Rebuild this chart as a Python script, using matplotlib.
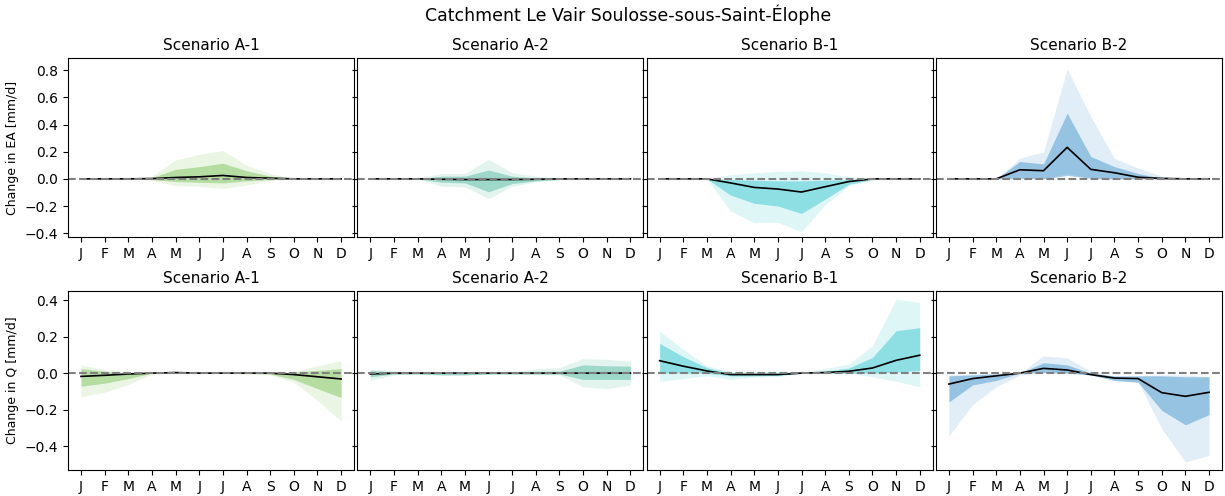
import numpy as np
import matplotlib.pyplot as plt
from matplotlib.ticker import MultipleLocator

months = ["J", "F", "M", "A", "M", "J", "J", "A", "S", "O", "N", "D"]
scenarios = ["Scenario A-1", "Scenario A-2", "Scenario B-1", "Scenario B-2"]
colors = ["#78c050", "#48b89a", "#2cc3cf", "#3d8fcb"]

# ---------------------------------------------------------
# change in actual evaporation (EA), mm/d
# ---------------------------------------------------------
ea_median = [
    [0, 0, 0, 0.002, 0.01, 0.015, 0.025, 0.01, 0.005, 0, 0, 0],
    [0, 0, 0, -0.003, -0.005, -0.005, -0.005, -0.003, 0, 0, 0, 0],
    [0, 0, 0, -0.03, -0.063, -0.075, -0.097, -0.058, -0.02, 0, 0, 0],
    [0, 0, 0, 0.067, 0.06, 0.232, 0.07, 0.045, 0.012, 0.003, 0, 0],
]
ea_inner_lo = [
    [0, 0, 0, -0.005, -0.02, -0.025, -0.03, -0.015, -0.005, 0, 0, 0],
    [0, 0, 0, -0.025, -0.03, -0.095, -0.035, -0.015, -0.005, 0, 0, 0],
    [0, 0, 0, -0.12, -0.18, -0.2, -0.255, -0.15, -0.04, -0.005, 0, 0],
    [0, 0, 0, 0.005, 0, 0.025, 0.005, 0, 0, 0, 0, 0],
]
ea_inner_hi = [
    [0, 0, 0, 0.01, 0.07, 0.09, 0.115, 0.06, 0.02, 0, 0, 0],
    [0, 0, 0, 0.02, 0.02, 0.065, 0.02, 0.005, 0, 0, 0, 0],
    [0, 0, 0, -0.005, -0.01, -0.015, -0.015, -0.01, -0.005, 0, 0, 0],
    [0, 0, 0, 0.128, 0.11, 0.484, 0.165, 0.09, 0.04, 0.005, 0, 0],
]
ea_outer_lo = [
    [0, 0, 0, -0.01, -0.05, -0.055, -0.07, -0.045, -0.01, 0, 0, 0],
    [0, 0, 0, -0.055, -0.06, -0.145, -0.055, -0.02, -0.005, 0, 0, 0],
    [0, 0, 0, -0.237, -0.323, -0.32, -0.39, -0.19, -0.05, -0.005, 0, 0],
    [0, 0, 0, 0, 0, 0.04, 0.005, 0, 0, 0, 0, 0],
]
ea_outer_hi = [
    [0, 0, 0, 0.02, 0.14, 0.18, 0.21, 0.1, 0.04, 0, 0, 0],
    [0, 0, 0, 0.04, 0.04, 0.145, 0.045, 0.02, 0.005, 0, 0, 0],
    [0, 0, 0, 0.03, 0.045, 0.055, 0.06, 0.045, 0.015, 0, 0, 0],
    [0, 0, 0, 0.153, 0.198, 0.81, 0.46, 0.15, 0.08, 0.02, 0, 0],
]

# ---------------------------------------------------------
# change in discharge (Q), mm/d
# ---------------------------------------------------------
q_median = [
    [-0.018, -0.012, -0.005, 0, 0.003, 0, 0, 0, 0, -0.008, -0.02, -0.032],
    [-0.005, 0, 0, 0, 0, 0, 0, 0, 0, 0, 0, 0],
    [0.068, 0.038, 0.012, -0.008, -0.008, -0.008, 0, 0.003, 0.01, 0.028, 0.07, 0.098],
    [-0.06, -0.03, -0.015, 0, 0.026, 0.017, -0.008, -0.027, -0.03, -0.107, -0.127, -0.105],
]
q_inner_lo = [
    [-0.072, -0.055, -0.03, 0, 0, 0, 0, 0, -0.005, -0.035, -0.085, -0.134],
    [-0.02, -0.005, -0.005, -0.01, -0.01, -0.005, -0.005, -0.005, -0.005, -0.035, -0.035, -0.035],
    [0, 0, 0, -0.015, -0.015, -0.012, 0, 0, 0, 0, 0.005, 0.015],
    [-0.158, -0.065, -0.04, 0, 0.003, 0, -0.01, -0.04, -0.05, -0.204, -0.283, -0.227],
]
q_inner_hi = [
    [0.025, 0.01, 0, 0, 0.005, 0, 0, 0, 0, 0.005, 0.015, 0.025],
    [0.015, 0.005, 0, 0, 0.003, 0, 0.003, 0.01, 0.01, 0.045, 0.04, 0.038],
    [0.163, 0.09, 0.03, 0, 0, 0, 0.005, 0.01, 0.028, 0.086, 0.232, 0.249],
    [-0.015, -0.01, -0.005, 0, 0.057, 0.045, 0, -0.015, -0.015, -0.015, -0.02, -0.02],
]
q_outer_lo = [
    [-0.128, -0.105, -0.062, -0.005, 0, 0, 0, -0.005, -0.01, -0.05, -0.15, -0.263],
    [-0.04, -0.01, -0.005, -0.01, -0.01, -0.005, -0.005, -0.01, -0.01, -0.075, -0.085, -0.065],
    [-0.045, -0.03, -0.015, -0.035, -0.02, -0.02, 0, 0, 0, -0.02, -0.045, -0.075],
    [-0.344, -0.172, -0.075, -0.01, 0, 0, -0.01, -0.04, -0.05, -0.304, -0.487, -0.45],
]
q_outer_hi = [
    [0.044, 0.02, 0.01, 0, 0.008, 0.005, 0, 0, 0.003, 0.01, 0.04, 0.068],
    [0.025, 0.012, 0.005, 0.003, 0.008, 0.003, 0.005, 0.025, 0.03, 0.08, 0.075, 0.065],
    [0.23, 0.13, 0.04, 0.01, 0.01, 0.01, 0.005, 0.025, 0.05, 0.15, 0.405, 0.388],
    [-0.01, -0.005, 0, 0, 0.095, 0.083, 0.01, -0.02, -0.015, -0.01, -0.01, -0.02],
]

x = np.arange(len(months))

fig, axes = plt.subplots(2, 4, figsize=(12.25, 4.96), dpi=100, sharey="row")
fig.subplots_adjust(left=0.0555, right=0.9976, top=0.883, bottom=0.052,
                    wspace=0.011, hspace=0.30)

rows = [
    (ea_median, ea_inner_lo, ea_inner_hi, ea_outer_lo, ea_outer_hi, "Change in EA [mm/d]"),
    (q_median, q_inner_lo, q_inner_hi, q_outer_lo, q_outer_hi, "Change in Q [mm/d]"),
]

for r, (med, ilo, ihi, olo, ohi, ylabel) in enumerate(rows):
    for c in range(4):
        ax = axes[r, c]
        # outer and inner ensemble bands, median on top
        ax.fill_between(x, olo[c], ohi[c], color=colors[c], alpha=0.15, lw=0)
        ax.fill_between(x, ilo[c], ihi[c], color=colors[c], alpha=0.45, lw=0)
        ax.plot(x, med[c], color="black", lw=1.2)
        ax.axhline(0, color="grey", ls="--", lw=1.5)
        ax.set_title(scenarios[c], fontsize=11)
        ax.set_xticks(x)
        ax.set_xticklabels(months)
    axes[r, 0].yaxis.set_major_locator(MultipleLocator(0.2))
    axes[r, 0].set_ylabel(ylabel, fontsize=9)

axes[0, 0].set_ylim(-0.43, 0.89)

fig.suptitle("Catchment Le Vair Soulosse-sous-Saint-Élophe", fontsize=12.5, x=0.513, y=0.99)

fig.savefig("out.png", dpi=100)
